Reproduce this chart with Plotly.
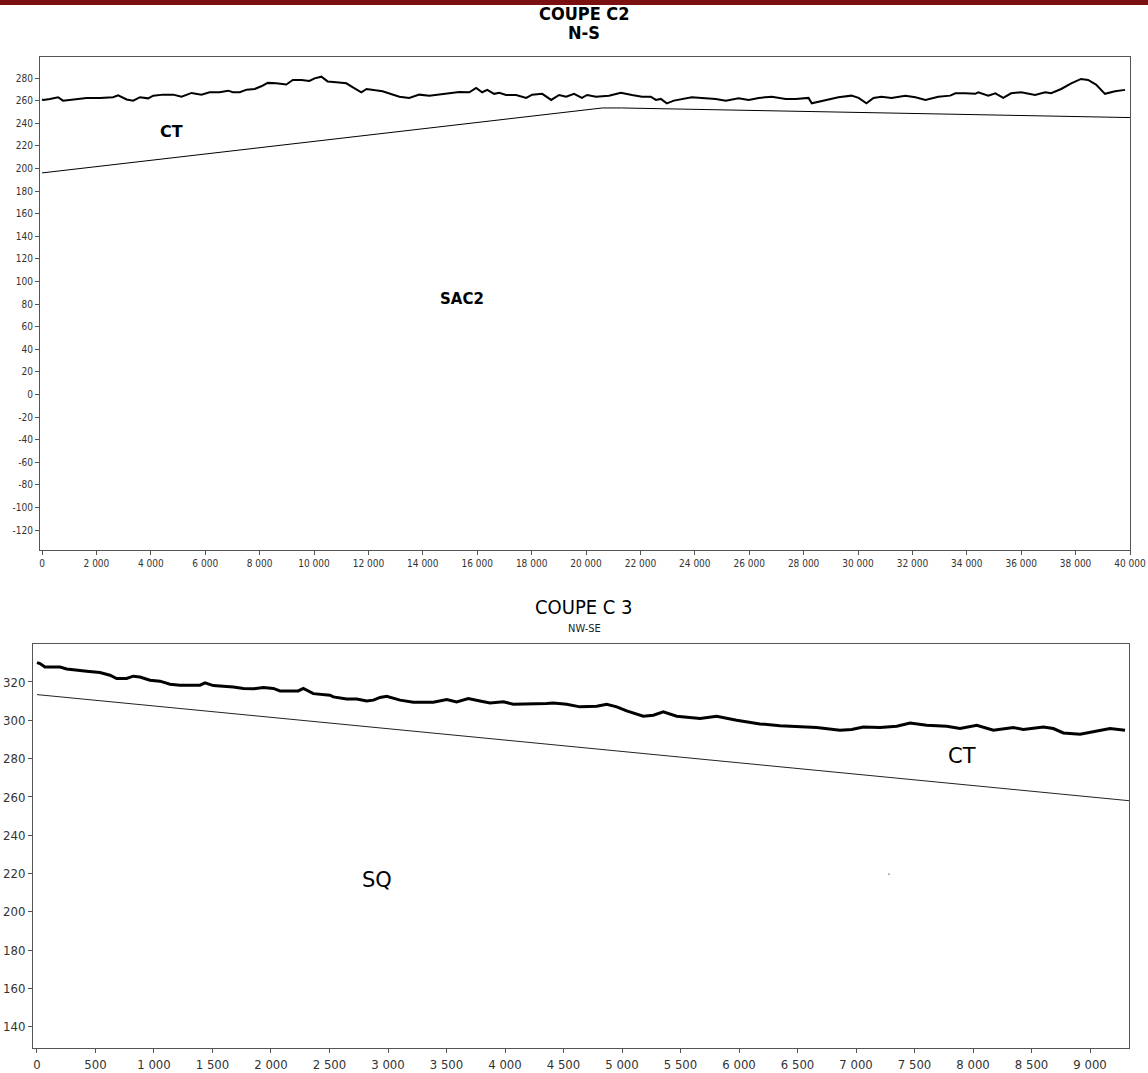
import plotly.graph_objects as go

W, H = 1148, 1073

# ---------------- COUPE C2 (N-S) ----------------
c2_dist = [0, 50, 290, 590, 770, 1140, 1640, 2130, 2610, 2800, 3110, 3350, 3600, 3900, 4090, 4450,
           4820, 5130, 5500, 5860, 6160, 6530, 6840, 7020, 7270, 7520, 7820, 8060, 8300, 8610, 8980,
           9220, 9540, 9830, 10020, 10270, 10500, 10820, 11190, 11430, 11740, 11930, 12160, 12520,
           12770, 13140, 13500, 13870, 14240, 14600, 14970, 15340, 15710, 15960, 16180, 16370, 16620,
           16810, 17060, 17430, 17800, 18020, 18390, 18720, 19010, 19270, 19560, 19850, 20040, 20370,
           20840, 21280, 21690, 22060, 22380, 22570, 22750, 22970, 23230, 23520, 23890, 24260, 24770,
           25140, 25610, 25980, 26350, 26830, 27340, 27710, 28180, 28300, 28810, 29280, 29760, 30020,
           30310, 30570, 30860, 31230, 31740, 32110, 32480, 32950, 33390, 33580, 33940, 34310, 34420,
           34790, 35050, 35340, 35630, 36000, 36510, 36880, 37100, 37470, 37840, 38200, 38460, 38750,
           39080, 39450, 39820]
c2_elev = [261, 260.6, 261.5, 263, 260, 261, 262.4, 262.4, 263, 264.7, 261, 260, 263, 262, 264.4, 265.3,
           265.3, 263.5, 266.8, 265.3, 267.4, 267.4, 268.8, 267.4, 267.4, 269.7, 270.3, 272.7, 275.7,
           275.3, 274.2, 278.3, 278.3, 277.4, 279.7, 281.2, 277, 276.2, 275.3, 271.8, 267.4, 270.3,
           269.5, 268.2, 266.3, 263.5, 262.4, 265.3, 264.4, 265.3, 266.5, 267.7, 267.4, 271.2, 267.4,
           269.5, 266, 267, 265, 265, 262.4, 265.3, 266, 260.6, 265, 263.5, 266, 262.4, 265, 263.5,
           264.4, 267, 265, 263.5, 263.5, 260.6, 261.5, 257.6, 260, 261.5, 263, 262.4, 261.5, 260,
           262, 260.6, 262.4, 263.5, 261.5, 261.5, 262.4, 257.6, 260.6, 263, 264.4, 262.4, 257.6,
           262.4, 263.5, 262.4, 264.4, 263, 260.6, 263.5, 264.4, 266.5, 266.5, 266, 267.4, 264.4,
           266.5, 262.4, 266.5, 267.4, 265, 267.4, 266.5, 270.3, 275.3, 279.2, 278.3, 274.2, 266,
           268.2, 269.5]
c2_base_dist = [0, 20600, 21300, 40000]
c2_base_elev = [196, 253.5, 253.5, 245]

c2_xticks = [0, 2000, 4000, 6000, 8000, 10000, 12000, 14000, 16000, 18000, 20000,
             22000, 24000, 26000, 28000, 30000, 32000, 34000, 36000, 38000, 40000]
c2_xlabels = ["0", "2 000", "4 000", "6 000", "8 000", "10 000", "12 000", "14 000", "16 000",
              "18 000", "20 000", "22 000", "24 000", "26 000", "28 000", "30 000", "32 000",
              "34 000", "36 000", "38 000", "40 000"]
c2_yticks = [-120, -100, -80, -60, -40, -20, 0, 20, 40, 60, 80, 100, 120, 140, 160, 180,
             200, 220, 240, 260, 280]
c2_ylabels = ["-120", "-100", "-80", "-60", "-40", "-20", "0", "20", "40", "60", "80", "100",
              "120", "140", "160", "180", "200", "220", "240", "260", "280"]

# ---------------- COUPE C 3 (NW-SE) ----------------
c3_dist = [0, 26, 68, 197, 254, 339, 425, 538, 624, 681, 766, 823, 880, 966, 1051, 1137, 1222, 1393,
           1436, 1507, 1678, 1764, 1849, 1935, 2020, 2077, 2233, 2276, 2362, 2504, 2533, 2647, 2733,
           2818, 2875, 2932, 2989, 3103, 3217, 3387, 3502, 3587, 3686, 3786, 3872, 3986, 4071, 4356,
           4413, 4527, 4641, 4784, 4869, 4955, 5040, 5182, 5268, 5353, 5467, 5667, 5809, 5980, 6179,
           6350, 6664, 6863, 6963, 7062, 7205, 7348, 7462, 7604, 7775, 7889, 8032, 8174, 8345, 8430,
           8601, 8686, 8772, 8915, 9029, 9171, 9299]
c3_elev = [330.1, 329.6, 327.8, 327.8, 326.8, 326.1, 325.6, 324.9, 323.5, 321.8, 321.8, 323, 322.6,
           320.9, 320.4, 318.8, 318.3, 318.3, 319.5, 318.1, 317.4, 316.6, 316.4, 317.1, 316.6, 315.3,
           315.3, 316.6, 313.9, 313.1, 312.2, 311.1, 311.1, 310.1, 310.5, 311.9, 312.5, 310.5, 309.4,
           309.4, 310.8, 309.6, 311.3, 310.1, 309, 309.6, 308.4, 308.7, 309, 308.4, 307, 307.3, 308.4,
           307, 304.9, 302.1, 302.6, 304.4, 302.1, 300.9, 302.1, 300, 298.1, 297.2, 296.2, 294.8,
           295.2, 296.5, 296.2, 296.9, 298.6, 297.4, 296.9, 295.7, 297.4, 294.8, 296.2, 295.2, 296.5,
           295.7, 293.4, 292.7, 293.9, 295.7, 294.8]
c3_base_dist = [0, 9340]
c3_base_elev = [313.4, 258]

c3_xticks = [0, 500, 1000, 1500, 2000, 2500, 3000, 3500, 4000, 4500, 5000, 5500, 6000, 6500,
             7000, 7500, 8000, 8500, 9000]
c3_xlabels = ["0", "500", "1 000", "1 500", "2 000", "2 500", "3 000", "3 500", "4 000", "4 500",
              "5 000", "5 500", "6 000", "6 500", "7 000", "7 500", "8 000", "8 500", "9 000"]
c3_yticks = [140, 160, 180, 200, 220, 240, 260, 280, 300, 320]
c3_ylabels = ["140", "160", "180", "200", "220", "240", "260", "280", "300", "320"]

NARROW = "Liberation Sans Narrow, DejaVu Sans Condensed, Arial Narrow, sans-serif"
TICKC = "#333333"
LINEC = "#555555"

fig = go.Figure()
fig.add_trace(go.Scatter(x=c2_dist, y=c2_elev, mode="lines", line=dict(color="black", width=2),
                         xaxis="x", yaxis="y", showlegend=False, hoverinfo="skip"))
fig.add_trace(go.Scatter(x=c2_base_dist, y=c2_base_elev, mode="lines", line=dict(color="black", width=1),
                         xaxis="x", yaxis="y", showlegend=False, hoverinfo="skip"))
fig.add_trace(go.Scatter(x=c3_dist, y=c3_elev, mode="lines", line=dict(color="black", width=3),
                         xaxis="x2", yaxis="y2", showlegend=False, hoverinfo="skip"))
fig.add_trace(go.Scatter(x=c3_base_dist, y=c3_base_elev, mode="lines", line=dict(color="#222222", width=1),
                         xaxis="x2", yaxis="y2", showlegend=False, hoverinfo="skip"))


def px_x(p):
    return p / W


def px_y(p):
    return 1 - p / H


axis_common = dict(showgrid=False, zeroline=False, showline=True, mirror=True, linecolor=LINEC,
                   linewidth=1, ticks="outside", ticklen=4, tickcolor=LINEC, automargin=False)

fig.update_layout(
    width=W, height=H, margin=dict(l=0, r=0, t=0, b=0),
    paper_bgcolor="white", plot_bgcolor="white", showlegend=False,
    xaxis=dict(domain=[px_x(40), px_x(1130)], range=[-75, 40000], anchor="y",
               tickvals=c2_xticks, ticktext=c2_xlabels,
               tickfont=dict(family=NARROW, size=10, color=TICKC), **axis_common),
    yaxis=dict(domain=[px_y(550), px_y(57)], range=[-137.7, 298.6], anchor="x",
               tickvals=c2_yticks, ticktext=c2_ylabels,
               tickfont=dict(family=NARROW, size=10, color=TICKC), **axis_common),
    xaxis2=dict(domain=[px_x(33), px_x(1129)], range=[-34, 9333], anchor="y2",
                tickvals=c3_xticks, ticktext=c3_xlabels,
                tickfont=dict(family=NARROW, size=13, color=TICKC), **axis_common),
    yaxis2=dict(domain=[px_y(1048), px_y(644)], range=[129, 339.8], anchor="x2",
                tickvals=c3_yticks, ticktext=c3_ylabels,
                tickfont=dict(family=NARROW, size=13, color=TICKC), **axis_common),
)

fig.add_shape(type="rect", xref="paper", yref="paper", x0=0, x1=1, y0=px_y(5), y1=1,
              fillcolor="#7b1010", line=dict(width=0), layer="above")

BOLD = "Liberation Sans Narrow, DejaVu Sans Condensed, Arial Narrow, sans-serif"
ann = [
    dict(text="<b>COUPE C2</b>", x=px_x(584), y=px_y(13), xref="paper", yref="paper",
         font=dict(family=BOLD, size=18, color="black")),
    dict(text="<b>N-S</b>", x=px_x(584), y=px_y(32), xref="paper", yref="paper",
         font=dict(family=BOLD, size=18, color="black")),
    dict(text="COUPE C 3", x=px_x(584), y=px_y(607), xref="paper", yref="paper",
         font=dict(family="DejaVu Sans Condensed, DejaVu Sans, sans-serif", size=20, color="black")),
    dict(text="NW-SE", x=px_x(584), y=px_y(628), xref="paper", yref="paper",
         font=dict(family="DejaVu Sans Condensed, DejaVu Sans, sans-serif", size=11, color="#222222")),
    dict(text="<b>CT</b>", x=4770, y=232.6, xref="x", yref="y",
         font=dict(family="DejaVu Sans, sans-serif", size=16, color="black")),
    dict(text="<b>SAC2</b>", x=15450, y=84.8, xref="x", yref="y",
         font=dict(family="DejaVu Sans, sans-serif", size=15, color="black")),
    dict(text="CT", x=7906, y=281.3, xref="x2", yref="y2",
         font=dict(family="DejaVu Sans, sans-serif", size=21, color="black")),
    dict(text="SQ", x=2906, y=216.6, xref="x2", yref="y2",
         font=dict(family="DejaVu Sans, sans-serif", size=21, color="black")),
    dict(text="`", x=7282, y=217.5, xref="x2", yref="y2",
         font=dict(family="DejaVu Sans, sans-serif", size=9, color="black")),
]
for a in ann:
    a.update(showarrow=False, xanchor="center", yanchor="middle")
    fig.add_annotation(**a)

fig.write_html("out.html", config={"displayModeBar": False},
               post_script="document.body.style.margin='0';document.body.style.padding='0';")
